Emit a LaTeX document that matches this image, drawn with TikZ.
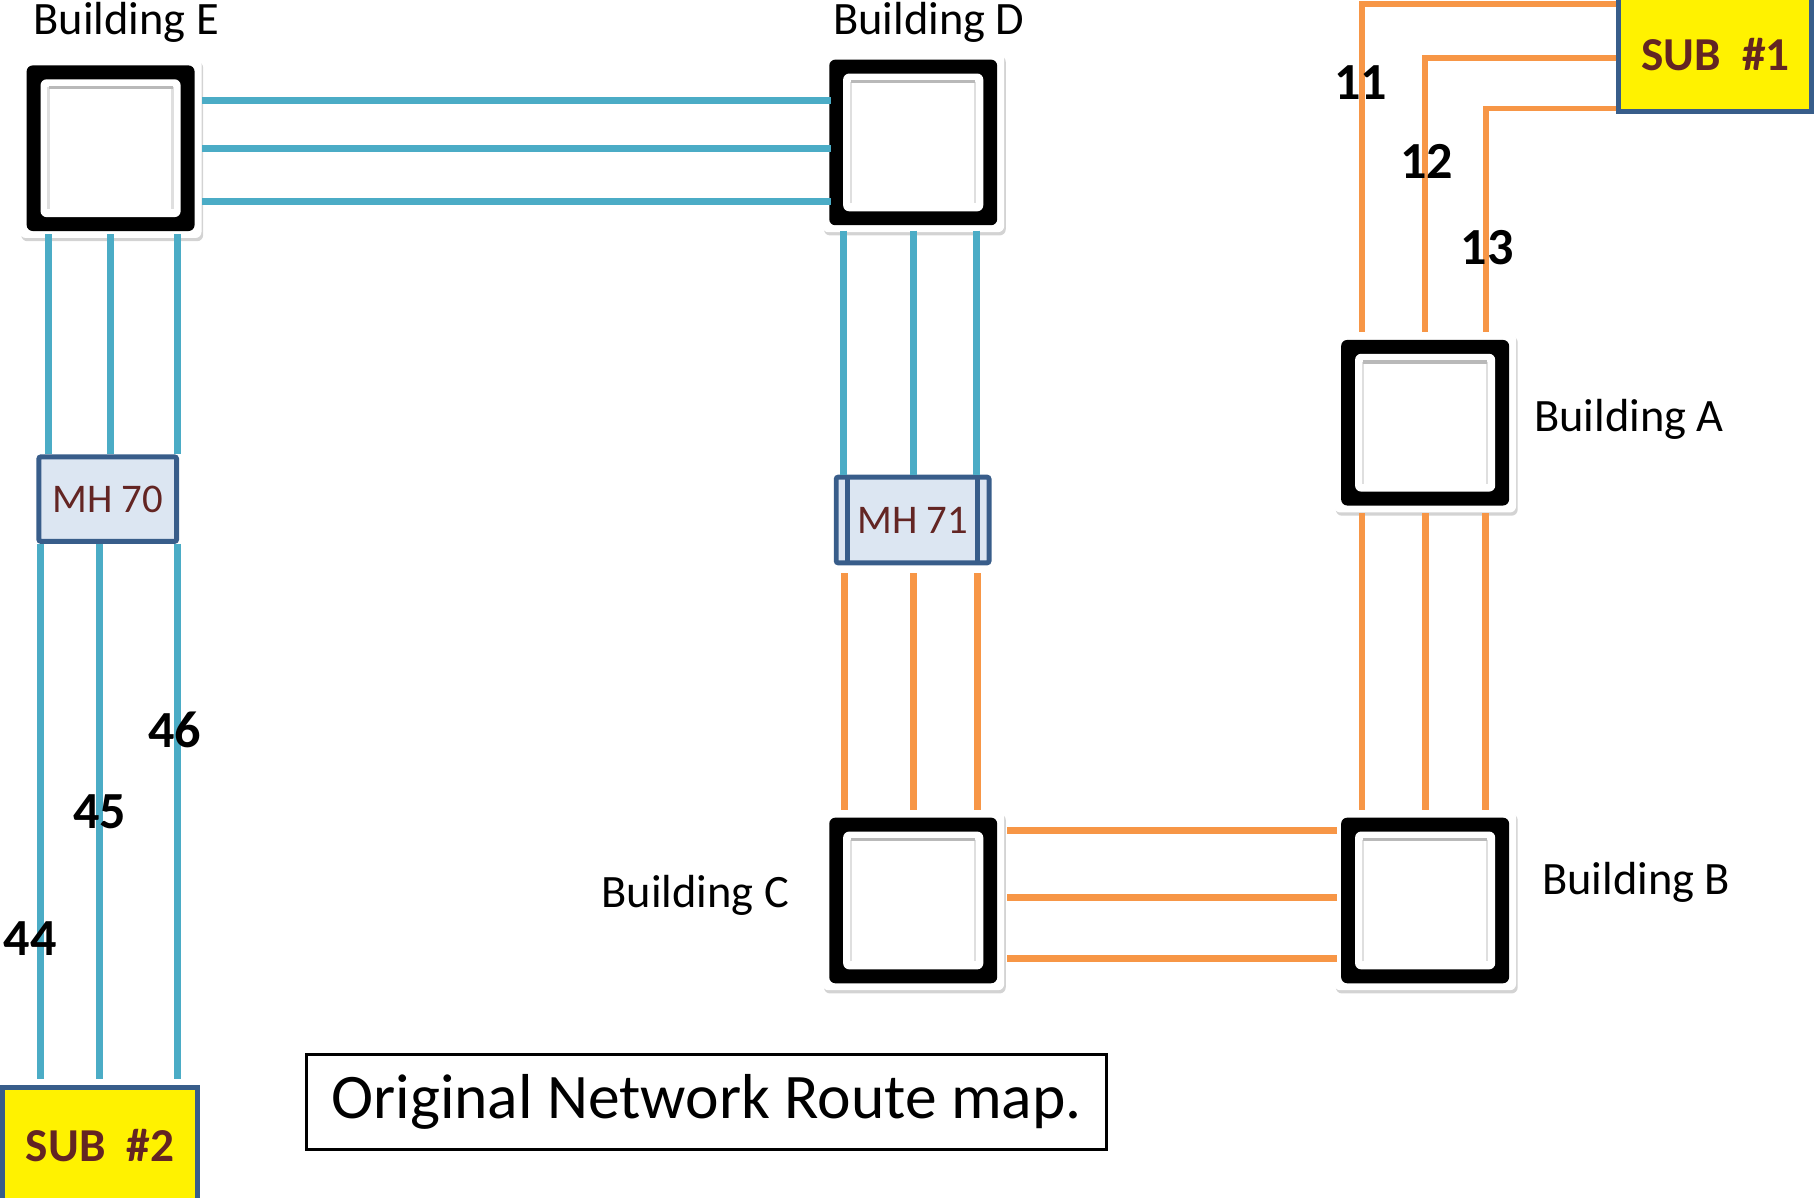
\documentclass[tikz,border=0pt]{standalone}
\usepackage{fontspec}
\setmainfont{Carlito}
\usepackage{tikz}
\usetikzlibrary{calc,shadows,positioning}

\definecolor{cable}{HTML}{4BACC6}
\definecolor{feeder}{HTML}{F79646}
\definecolor{mhfill}{HTML}{DCE6F2}
\definecolor{mhedge}{HTML}{385D8A}
\definecolor{subtext}{HTML}{632523}

\tikzset{
  bldg/.style={fill=white, rounded corners=1.5pt, inner sep=0pt,
    minimum width=1.57cm, minimum height=1.55cm,
    drop shadow={shadow xshift=0.4pt, shadow yshift=-0.8pt, opacity=0.35},
    path picture={
      \path (path picture bounding box.south west) coordinate (pp1)
            (path picture bounding box.north east) coordinate (pp2);
      \fill[black] ($(pp1)+(0.06,0.06)$) rectangle ($(pp2)-(0.06,0.06)$);
      \fill[white, rounded corners=1.5pt] ($(pp1)+(0.18,0.18)$) rectangle ($(pp2)-(0.18,0.18)$);
      \draw[gray!25, line width=0.6pt] ($(pp1)+(0.25,0.25)$) -- ($(pp1|-pp2)+(0.25,-0.25)$)
            ($(pp2)-(0.25,0.25)$) -- ($(pp2|-pp1)+(-0.25,0.25)$);
      \draw[gray!55, line width=0.8pt] ($(pp1|-pp2)+(0.25,-0.25)$) -- ($(pp2)-(0.25,0.25)$);
    }},
  bldglbl/.style={font=\fontsize{11.4}{13}\selectfont, inner sep=0pt},
  mhbox/.style={draw=mhedge, fill=mhfill, line width=1.2pt, rounded corners=0.5pt,
    text=subtext, font=\fontsize{10}{12}\selectfont},
  subbox/.style={draw=mhedge, fill=yellow, line width=1.2pt,
    text=subtext, font=\bfseries\fontsize{11.6}{14}\selectfont},
  numlbl/.style={font=\bfseries\fontsize{12.8}{15}\selectfont, inner sep=0pt},
  blueline/.style={cable, line width=1.7pt},
  orangeline/.style={feeder, line width=1.7pt},
  orangethin/.style={feeder, line width=1.3pt},
}

\begin{document}
\begin{tikzpicture}
\useasboundingbox (0,0) rectangle (15.68,10.34);

% buildings
\node[bldg] (E) at (0.955,9.06) {};
\node[bldg] (D) at (7.885,9.11) {};
\node[bldg] (A) at (12.305,6.69) {};
\node[bldg] (B) at (12.305,2.565) {};
\node[bldg] (C) at (7.885,2.565) {};

% manholes and substations
\node[mhbox, minimum width=1.17cm, minimum height=0.73cm] (mh70) at (0.93,6.03) {MH 70};
\node[mhbox, minimum width=1.32cm, minimum height=0.74cm,
  path picture={
    \draw[mhedge, line width=1.2pt] ([xshift=0.1cm]path picture bounding box.south west)
      -- ([xshift=0.1cm]path picture bounding box.north west);
    \draw[mhedge, line width=1.2pt] ([xshift=-0.1cm]path picture bounding box.south east)
      -- ([xshift=-0.1cm]path picture bounding box.north east);
  }] (mh71) at (7.88,5.85) {MH 71};
\node[subbox, minimum width=1.665cm, minimum height=0.98cm] (sub1) at (14.81,9.87) {SUB\ \ \#1};
\node[subbox, minimum width=1.687cm, minimum height=1.0cm] (sub2) at (0.864,0.45) {SUB\ \ \#2};

% blue routes
\foreach \dy in {0.41,0,-0.46}
  \draw[blueline] ([yshift=\dy cm]E.east) -- ([xshift=0.08cm,yshift=\dy cm]E.east -| D.west);
\foreach \dx in {-0.535,0,0.575}
  \draw[blueline] ([xshift=\dx cm,yshift=0.04cm]E.south) -- ([xshift=\dx cm]E.south |- mh70.north);
\foreach \dx in {-0.58,-0.07,0.60}
  \draw[blueline] ([xshift=\dx cm]mh70.south) -- ([xshift=\dx cm,yshift=0.05cm]mh70.south |- sub2.north);
\foreach \dx in {-0.60,0,0.55}
  \draw[blueline] ([xshift=\dx cm,yshift=0.02cm]D.south) -- ([xshift=\dx cm]D.south |- mh71.north);

% orange routes
\foreach \dx in {-0.59,0.01,0.56}
  \draw[orangeline] ([xshift=\dx cm,yshift=-0.07cm]mh71.south) -- ([xshift=\dx cm]mh71.south |- C.north);
\foreach \dy in {0.605,0.025,-0.505}
  \draw[orangeline] ([xshift=0.02cm,yshift=\dy cm]C.east) -- ([xshift=0.03cm,yshift=\dy cm]C.east -| B.west);
\foreach \dx in {-0.545,0,0.525}
  \draw[orangeline] ([xshift=\dx cm]A.south) -- ([xshift=\dx cm]A.south |- B.north);
\foreach \dy/\dx in {0.435/-0.545,-0.03/0,-0.47/0.525}
  \draw[orangethin] ([yshift=\dy cm]sub1.west) -| ([xshift=\dx cm]A.north);

% labels
\node[bldglbl, anchor=base] (lblE) at (1.09,10.04) {Building E};
\node[bldglbl, anchor=base] (lblD) at (8.02,10.04) {Building D};
\node[bldglbl, anchor=base west] (lblA) at (13.24,6.61) {Building A};
\node[bldglbl, anchor=base west] (lblB) at (13.31,2.62) {Building B};
\node[bldglbl, anchor=base east] (lblC) at (6.82,2.50) {Building C};

\node[numlbl] (n11) at (11.75,9.63) {11};
\node[numlbl] (n12) at (12.32,8.95) {12};
\node[numlbl] (n13) at (12.84,8.20) {13};
\node[numlbl] (n44) at (0.26,2.24) {44};
\node[numlbl] (n45) at (0.86,3.33) {45};
\node[numlbl] (n46) at (1.51,4.04) {46};

\node[draw=black, line width=0.9pt, minimum width=6.91cm, minimum height=0.82cm,
  font=\fontsize{15.6}{18}\selectfont] (title) at (6.10,0.825) {Original Network Route map.};
\end{tikzpicture}
\end{document}
